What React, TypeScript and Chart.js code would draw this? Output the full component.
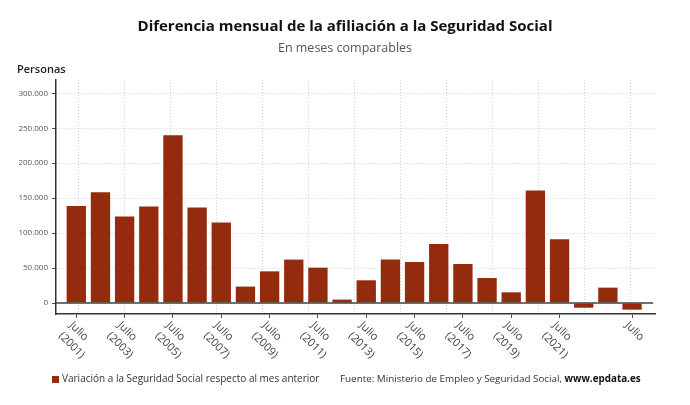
import React, { useEffect, useRef } from "react";
import { Chart, registerables } from "chart.js";

Chart.register(...registerables);

const categories = [
  "Julio 2001", "Julio 2002", "Julio 2003", "Julio 2004", "Julio 2005", "Julio 2006",
  "Julio 2007", "Julio 2008", "Julio 2009", "Julio 2010", "Julio 2011", "Julio 2012",
  "Julio 2013", "Julio 2014", "Julio 2015", "Julio 2016", "Julio 2017", "Julio 2018",
  "Julio 2019", "Julio 2020", "Julio 2021", "Julio 2022", "Julio 2023", "Julio 2024",
];

const values = [
  138800, 158400, 123600, 137900, 239900, 136500, 115000, 23500, 45300, 62100, 50600, 4900,
  32500, 62100, 58700, 84400, 55800, 35800, 15300, 160800, 91100, -6700, 22000, -9500,
];

const labelIndices = [0, 2, 4, 6, 8, 10, 12, 14, 16, 18, 20, 23];
const tickLabels: string[][] = [
  ["Julio", "(2001)"], ["Julio", "(2003)"], ["Julio", "(2005)"], ["Julio", "(2007)"],
  ["Julio", "(2009)"], ["Julio", "(2011)"], ["Julio", "(2013)"], ["Julio", "(2015)"],
  ["Julio", "(2017)"], ["Julio", "(2019)"], ["Julio", "(2021)"], ["Julio"],
];

const yTicks = [0, 50000, 100000, 150000, 200000, 250000, 300000];
const gridColumns = [0, 1, 2, 3, 4, 5, 6, 7, 8, 9, 10, 11, 12];

const title = "Diferencia mensual de la afiliación a la Seguridad Social";
const subtitle = "En meses comparables";
const yTitle = "Personas";
const seriesName = "Variación a la Seguridad Social respecto al mes anterior";
const sourceText = "Fuente: Ministerio de Empleo y Seguridad Social, ";
const sourceBold = "www.epdata.es";

const BAR_COLOR = "#952B0E";
const FONT = "'Open Sans', 'Noto Sans', sans-serif";

const fmt = (v: number) => String(v).replace(/\B(?=(\d{3})+(?!\d))/g, ".");

const decorPlugin = {
  id: "decor",
  afterDatasetsDraw(chart: any) {
    const ctx = chart.ctx;
    const y = chart.scales.y;
    const area = chart.chartArea;
    const y0 = y.getPixelForValue(0);
    ctx.save();
    ctx.strokeStyle = "#444";
    ctx.lineWidth = 1.5;
    ctx.beginPath();
    ctx.moveTo(area.left, y0);
    ctx.lineTo(area.right - 2, y0);
    ctx.stroke();
    ctx.restore();
  },
  afterDraw(chart: any) {
    const ctx = chart.ctx;
    const x = chart.scales.x;
    const area = chart.chartArea;
    ctx.save();
    ctx.fillStyle = "#111";
    ctx.textAlign = "center";
    ctx.textBaseline = "middle";
    ctx.font = `bold 15px ${FONT}`;
    ctx.fillText(title, 345, 27);
    ctx.fillStyle = "#555";
    ctx.font = `12.5px ${FONT}`;
    ctx.fillText(subtitle, 345, 48);
    ctx.fillStyle = "#222";
    ctx.textAlign = "left";
    ctx.font = `600 11px ${FONT}`;
    ctx.fillText(yTitle, 17, 70);

    ctx.fillStyle = "#444";
    ctx.font = `11px ${FONT}`;
    ctx.textBaseline = "top";
    labelIndices.forEach((idx, k) => {
      const px = x.getPixelForValue(idx);
      ctx.save();
      ctx.translate(px, area.bottom);
      ctx.rotate(Math.PI / 4);
      tickLabels[k].forEach((line, j) => {
        ctx.fillText(line, 3, 5 + j * 15);
      });
      ctx.restore();
    });

    ctx.textBaseline = "middle";
    ctx.fillStyle = BAR_COLOR;
    ctx.fillRect(52, 376, 7, 7);
    ctx.fillStyle = "#333";
    ctx.font = `10px ${FONT}`;
    ctx.fillText(seriesName, 62, 379.5);
    ctx.font = `9.85px ${FONT}`;
    ctx.fillText(sourceText, 340, 379.5);
    const w = ctx.measureText(sourceText).width;
    ctx.font = `bold 9.85px ${FONT}`;
    ctx.fillStyle = "#111";
    ctx.fillText(sourceBold, 340 + w, 379.5);
    ctx.restore();
  },
};

export default function App() {
  const ref = useRef<HTMLCanvasElement | null>(null);
  useEffect(() => {
    if (!ref.current) return;
    const chart = new Chart(ref.current, {
      type: "bar",
      data: {
        labels: categories,
        datasets: [
          {
            label: seriesName,
            data: values.map((v, i) => ({ x: i, y: v })),
            backgroundColor: BAR_COLOR,
            borderWidth: 0,
            barPercentage: 0.8,
            categoryPercentage: 1,
          },
        ],
      },
      options: {
        animation: false,
        responsive: false,
        maintainAspectRatio: false,
        layout: { padding: { left: 0, right: 35, top: 80, bottom: 0 } },
        plugins: {
          legend: { display: false },
          title: { display: false },
          tooltip: { enabled: false },
        },
        scales: {
          x: {
            type: "linear",
            position: "bottom",
            offset: false,
            min: -0.84,
            max: 23.95,
            afterBuildTicks: (s: any) => {
              s.ticks = labelIndices.map((v) => ({ value: v }));
            },
            afterFit: (s: any) => {
              s.height = 91;
            },
            ticks: { display: false },
            grid: {
              display: true,
              offset: false,
              drawOnChartArea: false,
              drawTicks: true,
              tickLength: 4,
              color: "#444",
            },
            border: { display: true, color: "#333", width: 1.5 },
          },
          x2: {
            type: "linear",
            position: "top",
            offset: false,
            min: -0.5,
            max: 12.54,
            afterBuildTicks: (s: any) => {
              s.ticks = gridColumns.map((v) => ({ value: v }));
            },
            afterFit: (s: any) => {
              s.height = 0;
            },
            ticks: { display: false },
            grid: { color: "#d0d0d0", drawTicks: false, lineWidth: 1, offset: false },
            border: { display: false, dash: [1, 2] },
          },
          y: {
            min: -15700,
            max: 319000,
            afterBuildTicks: (s: any) => {
              s.ticks = yTicks.map((v) => ({ value: v }));
            },
            afterFit: (s: any) => {
              s.width = 56;
            },
            ticks: {
              color: "#555",
              font: { family: FONT, size: 8 },
              padding: 4,
              callback: (v: any) => fmt(Number(v)),
            },
            grid: {
              color: "#d0d0d0",
              tickColor: "#444",
              tickLength: 4,
              lineWidth: 1,
            },
            border: { display: true, color: "#333", width: 1.5, dash: [1, 2] },
          },
        },
      },
      plugins: [decorPlugin],
    } as any);
    return () => chart.destroy();
  }, []);
  return (
    <div style={{ position: "absolute", left: 0, top: 0, width: 690, height: 405, background: "#fff" }}>
      <canvas ref={ref} width={690} height={405} style={{ width: 690, height: 405 }} />
    </div>
  );
}
